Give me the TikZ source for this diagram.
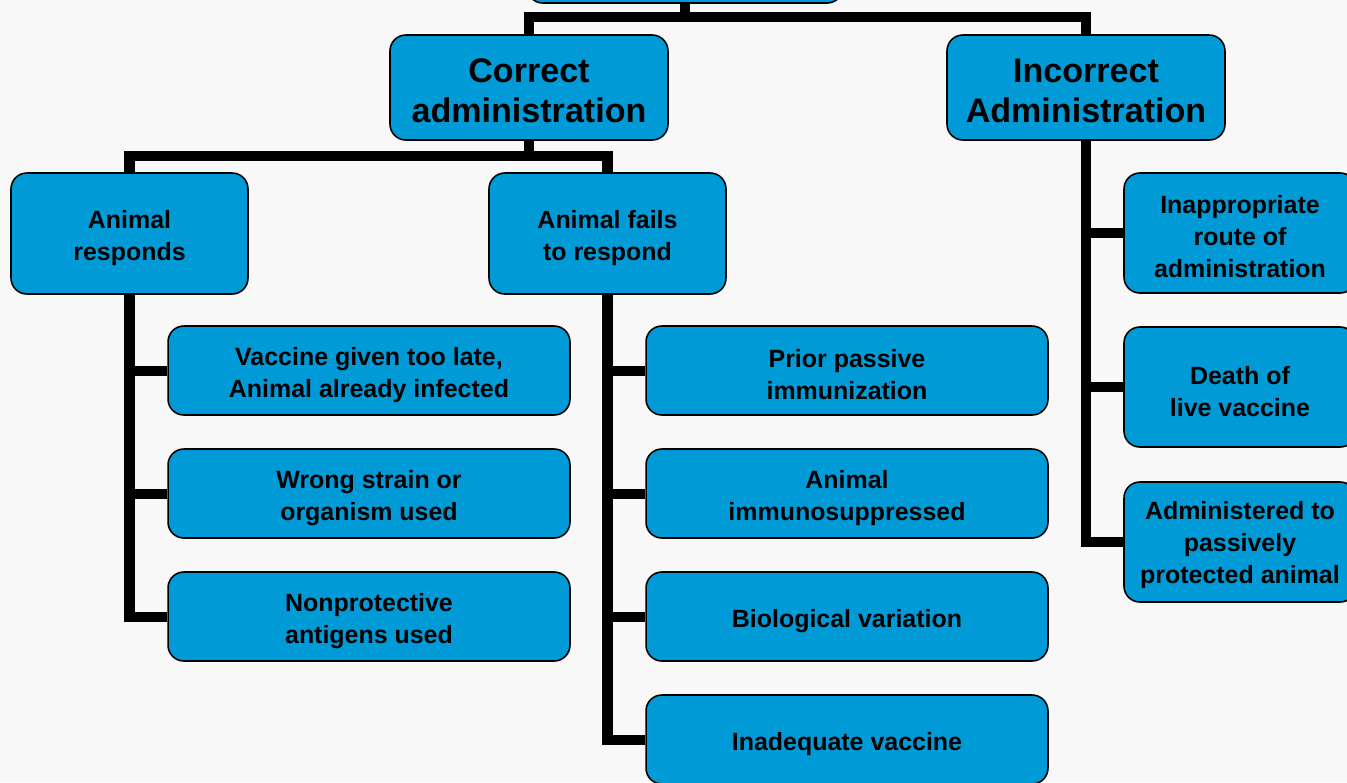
\documentclass[tikz,border=0pt]{standalone}
\usepackage{fontspec}
\setmainfont{Liberation Sans}
\definecolor{boxblue}{RGB}{0,155,215}
\definecolor{paper}{RGB}{248,248,248}

\tikzset{
  box/.style={draw=black, line width=0.9pt, fill=boxblue, rounded corners=9pt,
    align=center, inner sep=0pt, text=black,
    execute at begin node={\rule{0pt}{15.3pt}},
    font=\bfseries\fontsize{14.2}{18.2}\selectfont},
  twolines/.style={execute at begin node={\rule{0pt}{33.5pt}}},
  threelines/.style={execute at begin node={\rule{0pt}{50.5pt}}},
  bigbox/.style={box, minimum width=5.56cm, minimum height=2.1cm,
    execute at begin node={\rule{0pt}{40.3pt}},
    font=\bfseries\fontsize{19.4}{22.8}\selectfont},
  midbox/.style={box, twolines, minimum width=4.74cm, minimum height=2.42cm},
  widebox/.style={box, minimum width=8.04cm, minimum height=1.78cm},
  sidebox/.style={box, minimum width=4.64cm, minimum height=2.4cm},
  conn/.style={line width=5.7pt}
}

\begin{document}
\begin{tikzpicture}[x=0.02cm, y=-0.02cm]

\useasboundingbox (0,0) rectangle (1347,782);
\clip (0,0) rectangle (1347,782);
\fill[paper] (0,0) rectangle (1347,782);

%% top level
\node[box, minimum width=6.32cm, minimum height=1.2cm] (root) at (685,-27) {};
\node[bigbox] (correct)   at (529,87.5)  {Correct\\administration};
\node[bigbox] (incorrect) at (1086,87.5) {Incorrect\\Administration};

%% second level
\node[midbox] (responds) at (129.5,233.5) {Animal\\responds};
\node[midbox] (fails)    at (607.5,233.5) {Animal fails\\to respond};

%% animal responds
\node[widebox, twolines] (resp1) at (369,370.5) {Vaccine given too late,\\Animal already infected};
\node[widebox, twolines] (resp2) at (369,493.5) {Wrong strain or\\organism used};
\node[widebox, twolines] (resp3) at (369,616.5) {Nonprotective\\antigens used};

%% animal fails to respond
\node[widebox, twolines] (fail1) at (847,370.5) {Prior passive\\immunization};
\node[widebox, twolines] (fail2) at (847,493.5) {Animal\\immunosuppressed};
\node[widebox] (fail3) at (847,616.5) {Biological variation};
\node[widebox] (fail4) at (847,739.5) {Inadequate vaccine};

%% incorrect administration
\node[sidebox, threelines] (inc1) at (1240,233) {Inappropriate\\route of\\administration};
\node[sidebox, twolines]   (inc2) at (1240,387) {Death of\\live vaccine};
\node[sidebox, threelines] (inc3) at (1240,542) {Administered to\\passively\\protected animal};

%% connectors
\draw[conn] (root.south) -- ++(0,15);
\draw[conn] (correct.north) -- ++(0,-17) -| (incorrect.north);
\draw[conn] (correct.south) -- ++(0,17);
\draw[conn] (responds.north) -- ++(0,-16) -| (fails.north);

\draw[conn] (responds.south) |- (resp3.west);
\draw[conn] (responds.south |- resp1.west) -- (resp1.west);
\draw[conn] (responds.south |- resp2.west) -- (resp2.west);

\draw[conn] (fails.south) |- (fail4.west);
\draw[conn] (fails.south |- fail1.west) -- (fail1.west);
\draw[conn] (fails.south |- fail2.west) -- (fail2.west);
\draw[conn] (fails.south |- fail3.west) -- (fail3.west);

\draw[conn] (incorrect.south) |- (inc3.west);
\draw[conn] (incorrect.south |- inc1.west) -- (inc1.west);
\draw[conn] (incorrect.south |- inc2.west) -- (inc2.west);

\end{tikzpicture}
\end{document}
